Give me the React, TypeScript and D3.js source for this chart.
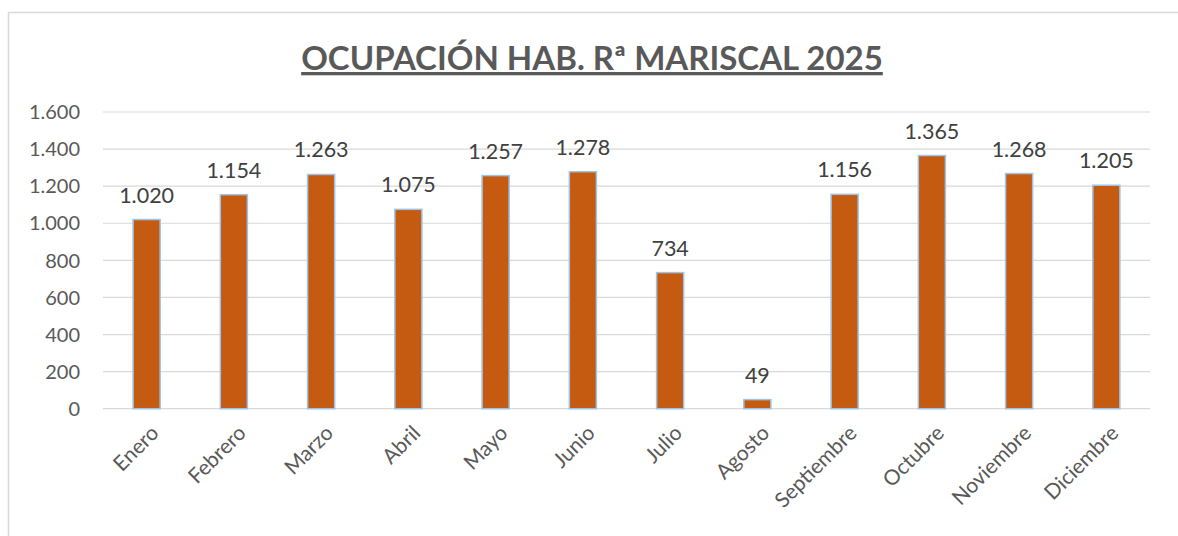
import React from 'react';
import * as d3 from 'd3';

const months = ['Enero', 'Febrero', 'Marzo', 'Abril', 'Mayo', 'Junio', 'Julio', 'Agosto', 'Septiembre', 'Octubre', 'Noviembre', 'Diciembre'];
const occupancy = [1020, 1154, 1263, 1075, 1257, 1278, 734, 49, 1156, 1365, 1268, 1205];
const yTicks = [0, 200, 400, 600, 800, 1000, 1200, 1400, 1600];
const title = 'OCUPACIÓN HAB. Rª MARISCAL 2025';

const W = 1178;
const H = 536;
const font = 'Lato, "Open Sans", sans-serif';

// thousands with a dot, like the Spanish Excel export
const esLocale = d3.formatLocale({ decimal: ',', thousands: '.', grouping: [3], currency: ['', '€'] });
const fmt = esLocale.format(',d');

export default function App() {
  const x = d3.scaleBand<string>().domain(months).range([103, 1150]).paddingInner(0.69).paddingOuter(0.345);
  const y = d3.scaleLinear().domain([0, 1600]).range([408.7, 112]);

  return (
    <svg width={W} height={H} style={{ position: 'absolute', left: 0, top: 0, background: '#fff' }}>
      {/* chart frame */}
      <rect x={8.5} y={12.5} width={W + 20} height={H + 20} fill="#fff" stroke="#d9d9d9" strokeWidth={1.5} />

      <text x={592} y={70} textAnchor="middle" fontFamily={font} fontWeight="bold" fontSize={33} fill="#595959"
        textDecoration="underline">{title}</text>

      {/* gridlines + y labels */}
      {yTicks.map(t => (
        <g key={t}>
          <line x1={103} x2={1150} y1={y(t)} y2={y(t)} stroke="#d9d9d9" strokeWidth={1.2} />
          <text x={80} y={y(t)} dy="0.36em" textAnchor="end" fontFamily={font} fontSize={20} fill="#595959">{fmt(t)}</text>
        </g>
      ))}

      {/* bars */}
      {occupancy.map((v, i) => {
        const bx = x(months[i])!;
        return (
          <g key={months[i]}>
            <rect x={bx} y={y(v)} width={x.bandwidth()} height={y(0) - y(v)} fill="#c55a11" stroke="#9dc3e6" strokeWidth={1.5} />
            <text x={bx + x.bandwidth() / 2} y={y(v) - 17} textAnchor="middle" fontFamily={font} fontSize={21.5} fill="#404040">{fmt(v)}</text>
          </g>
        );
      })}

      {/* x labels */}
      {months.map(m => {
        const cx = x(m)! + x.bandwidth() / 2 + 3;
        const cy = 424;
        return (
          <text key={m} transform={`translate(${cx},${cy}) rotate(-45)`} textAnchor="end" dy="0.7em" fontFamily={font} fontSize={21} fill="#595959">{m}</text>
        );
      })}
    </svg>
  );
}
